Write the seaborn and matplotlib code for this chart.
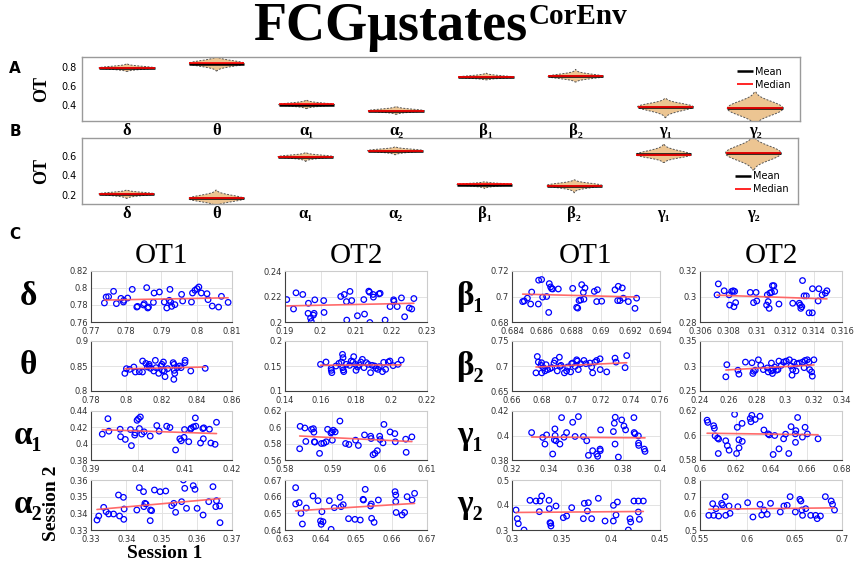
import numpy as np
import pandas as pd
import matplotlib
matplotlib.use("Agg")
import matplotlib.pyplot as plt
import seaborn as sns

bands = ["δ", "θ", "α₁", "α₂", "β₁", "β₂", "γ₁", "γ₂"]

# (session 1, session 2) pairs
delta_ot1 = [(0.7738, 0.7824), (0.7743, 0.7894), (0.7750, 0.7898), (0.7764, 0.7961), (0.7772, 0.7816),
             (0.7785, 0.7878), (0.7792, 0.7835), (0.7793, 0.7855), (0.7804, 0.7882), (0.7817, 0.7984),
             (0.7830, 0.7776), (0.7832, 0.7784), (0.7849, 0.7800), (0.7851, 0.7816), (0.7858, 0.8004),
             (0.7861, 0.7765), (0.7863, 0.7776), (0.7877, 0.7831), (0.7879, 0.7941), (0.7894, 0.7953),
             (0.7908, 0.7835), (0.7915, 0.7765), (0.7922, 0.7855), (0.7924, 0.7984), (0.7926, 0.7835),
             (0.7929, 0.7784), (0.7938, 0.7804), (0.7957, 0.7925), (0.7960, 0.7847), (0.7985, 0.7835),
             (0.7988, 0.7941), (0.7995, 0.7973), (0.8001, 0.7992), (0.8006, 0.8012), (0.8013, 0.7941),
             (0.8029, 0.7933), (0.8032, 0.7863), (0.8044, 0.7788), (0.8062, 0.7776), (0.8070, 0.7902),
             (0.8089, 0.7831)]
delta_ot2 = [(0.1905, 0.2176), (0.1924, 0.2102), (0.1931, 0.2229), (0.1950, 0.2216), (0.1965, 0.2068),
             (0.1966, 0.2147), (0.1982, 0.2068), (0.1974, 0.2004), (0.1972, 0.2030), (0.1980, 0.2054),
             (0.1984, 0.2174), (0.2009, 0.2168), (0.2010, 0.2075), (0.2057, 0.2200), (0.2067, 0.2216),
             (0.2073, 0.2160), (0.2074, 0.2015), (0.2083, 0.2240), (0.2088, 0.2168), (0.2104, 0.2049),
             (0.2122, 0.2176), (0.2124, 0.2062), (0.2136, 0.2242), (0.2138, 0.2234), (0.2139, 0.1996),
             (0.2148, 0.2216), (0.2149, 0.2195), (0.2165, 0.2221), (0.2168, 0.2225), (0.2182, 0.2015),
             (0.2196, 0.2121), (0.2206, 0.2174), (0.2207, 0.2163), (0.2216, 0.2121), (0.2228, 0.2189),
             (0.2237, 0.2041), (0.2250, 0.2110), (0.2257, 0.2102), (0.2263, 0.2184)]
theta_ot1 = [(0.7992, 0.8353), (0.8001, 0.8447), (0.8019, 0.8433), (0.8043, 0.8480), (0.8052, 0.8380),
             (0.8074, 0.8387), (0.8092, 0.8380), (0.8093, 0.8600), (0.8111, 0.8553), (0.8120, 0.8480),
             (0.8129, 0.8500), (0.8130, 0.8533), (0.8138, 0.8453), (0.8156, 0.8400), (0.8165, 0.8613),
             (0.8169, 0.8467), (0.8184, 0.8353), (0.8198, 0.8500), (0.8202, 0.8533), (0.8205, 0.8413),
             (0.8211, 0.8580), (0.8216, 0.8400), (0.8220, 0.8287), (0.8235, 0.8447), (0.8266, 0.8567),
             (0.8271, 0.8533), (0.8272, 0.8413), (0.8275, 0.8353), (0.8270, 0.8233), (0.8289, 0.8467),
             (0.8302, 0.8500), (0.8311, 0.8467), (0.8333, 0.8567), (0.8334, 0.8613), (0.8366, 0.8400),
             (0.8448, 0.8453)]
theta_ot2 = [(0.1600, 0.1533), (0.1631, 0.1580), (0.1660, 0.1453), (0.1661, 0.1413), (0.1664, 0.1367),
             (0.1687, 0.1500), (0.1704, 0.1553), (0.1718, 0.1580), (0.1724, 0.1733), (0.1727, 0.1667),
             (0.1725, 0.1467), (0.1728, 0.1420), (0.1731, 0.1387), (0.1745, 0.1533), (0.1764, 0.1513),
             (0.1773, 0.1600), (0.1782, 0.1580), (0.1787, 0.1687), (0.1796, 0.1533), (0.1800, 0.1413),
             (0.1809, 0.1480), (0.1818, 0.1520), (0.1827, 0.1580), (0.1836, 0.1633), (0.1845, 0.1467),
             (0.1858, 0.1567), (0.1869, 0.1533), (0.1882, 0.1367), (0.1891, 0.1513), (0.1905, 0.1500),
             (0.1913, 0.1453), (0.1924, 0.1433), (0.1931, 0.1487), (0.1949, 0.1387), (0.1956, 0.1573),
             (0.1967, 0.1433), (0.1982, 0.1580), (0.1991, 0.1600), (0.2009, 0.1507), (0.2036, 0.1533),
             (0.2055, 0.1620)]
alpha1_ot1 = [(0.3924, 0.4117), (0.3936, 0.4306), (0.3938, 0.4153), (0.3962, 0.4177), (0.3963, 0.4085),
              (0.3973, 0.4052), (0.3984, 0.4173), (0.3986, 0.3976), (0.3993, 0.4105), (0.3994, 0.4133),
              (0.3998, 0.4286), (0.4001, 0.4306), (0.4005, 0.4327), (0.4003, 0.4185), (0.4008, 0.4117),
              (0.4013, 0.4145), (0.4026, 0.4093), (0.4040, 0.4222), (0.4045, 0.4153), (0.4061, 0.4214),
              (0.4068, 0.4198), (0.4080, 0.3923), (0.4089, 0.4060), (0.4092, 0.4036), (0.4098, 0.4077),
              (0.4099, 0.4173), (0.4108, 0.4024), (0.4112, 0.4177), (0.4113, 0.4190), (0.4118, 0.4206),
              (0.4122, 0.4315), (0.4123, 0.4214), (0.4133, 0.4008), (0.4138, 0.4185), (0.4140, 0.4194),
              (0.4139, 0.4060), (0.4152, 0.4177), (0.4155, 0.4008), (0.4164, 0.3992), (0.4167, 0.4262)]
alpha1_ot2 = [(0.5832, 0.6012), (0.5842, 0.5992), (0.5844, 0.5827), (0.5831, 0.5738), (0.5856, 0.5976),
              (0.5860, 0.5984), (0.5861, 0.5940), (0.5862, 0.5823), (0.5863, 0.5819), (0.5873, 0.5681),
              (0.5877, 0.5802), (0.5882, 0.5806), (0.5887, 0.5823), (0.5890, 0.5976), (0.5897, 0.5931),
              (0.5899, 0.5944), (0.5902, 0.5964), (0.5900, 0.5843), (0.5906, 0.5944), (0.5916, 0.6077),
              (0.5928, 0.5802), (0.5935, 0.5790), (0.5949, 0.5843), (0.5955, 0.5778), (0.5968, 0.5907),
              (0.5981, 0.5891), (0.5982, 0.5863), (0.5986, 0.5665), (0.5990, 0.5681), (0.5995, 0.5714),
              (0.6000, 0.5891), (0.6001, 0.5851), (0.6007, 0.5810), (0.6009, 0.6036), (0.6022, 0.5944),
              (0.6032, 0.5923), (0.6033, 0.5823), (0.6055, 0.5855), (0.6056, 0.5694), (0.6068, 0.5883)]
alpha2_ot1 = [(0.3317, 0.3360), (0.3322, 0.3384), (0.3336, 0.3436), (0.3343, 0.3410), (0.3350, 0.3396),
              (0.3364, 0.3396), (0.3378, 0.3510), (0.3381, 0.3384), (0.3392, 0.3496), (0.3394, 0.3426),
              (0.3393, 0.3364), (0.3430, 0.3420), (0.3437, 0.3554), (0.3449, 0.3530), (0.3450, 0.3440),
              (0.3453, 0.3460), (0.3456, 0.3456), (0.3468, 0.3356), (0.3469, 0.3420), (0.3472, 0.3416),
              (0.3480, 0.3540), (0.3496, 0.3530), (0.3512, 0.3534), (0.3529, 0.3446), (0.3535, 0.3460),
              (0.3540, 0.3406), (0.3557, 0.3470), (0.3562, 0.3600), (0.3566, 0.3550), (0.3571, 0.3430),
              (0.3590, 0.3566), (0.3595, 0.3544), (0.3601, 0.3430), (0.3618, 0.3390), (0.3634, 0.3470),
              (0.3646, 0.3560), (0.3654, 0.3440), (0.3656, 0.3476), (0.3665, 0.3444), (0.3666, 0.3344)]
alpha2_ot2 = [(0.6330, 0.6654), (0.6330, 0.6556), (0.6340, 0.6564), (0.6345, 0.6500), (0.6349, 0.6436),
              (0.6360, 0.6532), (0.6379, 0.6604), (0.6393, 0.6576), (0.6400, 0.6454), (0.6402, 0.6434),
              (0.6404, 0.6510), (0.6407, 0.6450), (0.6425, 0.6576), (0.6430, 0.6404), (0.6439, 0.6534),
              (0.6455, 0.6596), (0.6458, 0.6540), (0.6464, 0.6552), (0.6479, 0.6468), (0.6497, 0.6464),
              (0.6512, 0.6460), (0.6520, 0.6584), (0.6521, 0.6580), (0.6526, 0.6644), (0.6541, 0.6544),
              (0.6543, 0.6556), (0.6544, 0.6470), (0.6551, 0.6446), (0.6563, 0.6580), (0.6610, 0.6630),
              (0.6612, 0.6610), (0.6612, 0.6570), (0.6613, 0.6505), (0.6630, 0.6490), (0.6637, 0.6505),
              (0.6644, 0.6600), (0.6658, 0.6580), (0.6665, 0.6620)]
beta1_ot1 = [(0.68472, 0.6960), (0.68483, 0.6965), (0.68504, 0.6987), (0.68526, 0.6941), (0.68533, 0.7035),
             (0.68578, 0.6941), (0.68580, 0.7128), (0.68600, 0.7133), (0.68607, 0.6995), (0.68634, 0.7000),
             (0.68648, 0.6875), (0.68652, 0.7101), (0.68661, 0.7075), (0.68668, 0.7061), (0.68675, 0.7059),
             (0.68713, 0.7059), (0.68810, 0.7064), (0.68837, 0.6915), (0.68844, 0.6909), (0.68853, 0.6968),
             (0.68864, 0.6973), (0.68871, 0.7093), (0.68882, 0.7032), (0.68886, 0.6979), (0.68893, 0.7067),
             (0.68956, 0.7040), (0.68972, 0.6960), (0.68977, 0.7053), (0.69006, 0.6963), (0.69096, 0.7053),
             (0.69114, 0.6968), (0.69118, 0.7080), (0.69130, 0.6968), (0.69145, 0.7067), (0.69152, 0.6987),
             (0.69186, 0.6960), (0.69231, 0.6907), (0.69242, 0.6987)]
beta1_ot2 = [(0.30720, 0.3013), (0.30729, 0.3099), (0.30770, 0.3045), (0.30805, 0.3013), (0.30809, 0.2933),
             (0.30823, 0.3040), (0.30834, 0.3045), (0.30839, 0.2920), (0.30844, 0.3040), (0.30851, 0.2952),
             (0.30954, 0.3032), (0.30977, 0.2952), (0.30995, 0.3032), (0.31000, 0.2965), (0.31069, 0.2933),
             (0.31074, 0.3013), (0.31080, 0.2960), (0.31087, 0.2907), (0.31092, 0.3027), (0.31103, 0.3032),
             (0.31110, 0.3085), (0.31120, 0.3085), (0.31126, 0.3040), (0.31156, 0.2941), (0.31253, 0.2947),
             (0.31299, 0.2947), (0.31306, 0.2933), (0.31310, 0.2907), (0.31317, 0.2920), (0.31322, 0.3125),
             (0.31333, 0.3005), (0.31349, 0.3005), (0.31368, 0.2872), (0.31391, 0.2872), (0.31392, 0.3061),
             (0.31432, 0.2965), (0.31437, 0.3061), (0.31460, 0.3013), (0.31483, 0.3027), (0.31494, 0.3045)]
beta2_ot1 = [(0.6762, 0.6863), (0.6771, 0.7190), (0.6778, 0.7078), (0.6796, 0.7013), (0.6800, 0.7065),
             (0.6801, 0.6863), (0.6812, 0.6967), (0.6823, 0.6902), (0.6830, 0.7026), (0.6841, 0.6928),
             (0.6857, 0.6948), (0.6868, 0.6967), (0.6884, 0.7059), (0.6891, 0.7111), (0.6906, 0.6902),
             (0.6920, 0.7176), (0.6924, 0.6993), (0.6931, 0.7013), (0.6954, 0.6863), (0.6969, 0.6902),
             (0.6976, 0.6980), (0.6996, 0.6882), (0.7003, 0.7046), (0.7010, 0.7059), (0.7026, 0.6993),
             (0.7037, 0.7124), (0.7041, 0.7098), (0.7048, 0.6928), (0.7064, 0.7046), (0.7086, 0.7111),
             (0.7100, 0.7046), (0.7127, 0.7059), (0.7138, 0.6980), (0.7145, 0.6863), (0.7161, 0.7078),
             (0.7172, 0.7111), (0.7195, 0.7144), (0.7196, 0.6928), (0.7240, 0.6882), (0.7296, 0.7157),
             (0.7303, 0.7078), (0.7364, 0.6967), (0.7375, 0.7209)]
beta2_ot2 = [(0.2582, 0.2784), (0.2589, 0.3026), (0.2667, 0.2915), (0.2674, 0.2837), (0.2720, 0.3078),
             (0.2766, 0.3065), (0.2772, 0.2850), (0.2777, 0.2895), (0.2789, 0.2915), (0.2811, 0.3124),
             (0.2828, 0.3013), (0.2846, 0.2928), (0.2874, 0.2961), (0.2880, 0.2882), (0.2903, 0.3059),
             (0.2904, 0.2902), (0.2910, 0.2850), (0.2915, 0.2928), (0.2926, 0.2980), (0.2938, 0.2915),
             (0.2949, 0.2928), (0.2956, 0.3098), (0.2972, 0.3013), (0.2989, 0.3078), (0.3007, 0.3098),
             (0.3030, 0.3124), (0.3041, 0.3000), (0.3048, 0.2817), (0.3053, 0.2928), (0.3060, 0.3078),
             (0.3076, 0.2902), (0.3083, 0.3046), (0.3099, 0.3059), (0.3122, 0.3078), (0.3133, 0.2967),
             (0.3140, 0.3111), (0.3156, 0.3124), (0.3168, 0.3078), (0.3172, 0.2928), (0.3186, 0.2882),
             (0.3191, 0.2797), (0.3202, 0.3124)]
gamma1_ot1 = [(0.3306, 0.4024), (0.3366, 0.3984), (0.3378, 0.3930), (0.3387, 0.4005), (0.3420, 0.3849),
              (0.3429, 0.3965), (0.3432, 0.4054), (0.3433, 0.4000), (0.3438, 0.3957), (0.3459, 0.3930),
              (0.3468, 0.4146), (0.3481, 0.3986), (0.3495, 0.4024), (0.3528, 0.4108), (0.3559, 0.4154),
              (0.3541, 0.3992), (0.3586, 0.3992), (0.3604, 0.3957), (0.3613, 0.3838), (0.3636, 0.3876),
              (0.3658, 0.3849), (0.3663, 0.3830), (0.3676, 0.3889), (0.3677, 0.3876), (0.3679, 0.4046),
              (0.3748, 0.4032), (0.3753, 0.4100), (0.3757, 0.3930), (0.3758, 0.4149), (0.3775, 0.3824),
              (0.3793, 0.4127), (0.3805, 0.4078), (0.3814, 0.4046), (0.3859, 0.4146), (0.3860, 0.4024),
              (0.3865, 0.4014), (0.3883, 0.3997), (0.3884, 0.3938), (0.3885, 0.3919), (0.3915, 0.3889),
              (0.3919, 0.3870)]
gamma1_ot2 = [(0.6040, 0.6125), (0.6044, 0.6107), (0.6077, 0.6080), (0.6081, 0.6059), (0.6085, 0.5997),
              (0.6099, 0.5979), (0.6103, 0.5853), (0.6105, 0.5971), (0.6145, 0.5957), (0.6154, 0.5917),
              (0.6164, 0.5880), (0.6195, 0.6173), (0.6206, 0.5853), (0.6210, 0.6067), (0.6219, 0.5965),
              (0.6220, 0.5899), (0.6237, 0.6099), (0.6238, 0.5952), (0.6283, 0.6139), (0.6292, 0.6165),
              (0.6287, 0.6112), (0.6311, 0.6131), (0.6338, 0.6157), (0.6360, 0.6045), (0.6384, 0.6013),
              (0.6390, 0.6005), (0.6412, 0.5845), (0.6421, 0.6000), (0.6445, 0.5891), (0.6471, 0.5973),
              (0.6482, 0.6011), (0.6500, 0.5853), (0.6513, 0.6072), (0.6537, 0.6013), (0.6538, 0.5944),
              (0.6540, 0.6040), (0.6550, 0.6147), (0.6577, 0.5987), (0.6592, 0.6067), (0.6605, 0.6013),
              (0.6665, 0.5973)]
gamma2_ot1 = [(0.3041, 0.3800), (0.3054, 0.3453), (0.3064, 0.3253), (0.3122, 0.3000), (0.3182, 0.4187),
              (0.3243, 0.4160), (0.3277, 0.3733), (0.3284, 0.4160), (0.3301, 0.4360), (0.3375, 0.4187),
              (0.3378, 0.3853), (0.3385, 0.3293), (0.3392, 0.3267), (0.3395, 0.3160), (0.3446, 0.3960),
              (0.3520, 0.3493), (0.3554, 0.3560), (0.3605, 0.3893), (0.3723, 0.3453), (0.3733, 0.4067),
              (0.3764, 0.3760), (0.3774, 0.4093), (0.3807, 0.3453), (0.3875, 0.4267), (0.3943, 0.3360),
              (0.4027, 0.3360), (0.4028, 0.3987), (0.4054, 0.3600), (0.4068, 0.4120), (0.4179, 0.3000),
              (0.4196, 0.3453), (0.4203, 0.3320), (0.4236, 0.4160), (0.4280, 0.3720), (0.4281, 0.4160),
              (0.4291, 0.3427), (0.4331, 0.4160)]
gamma2_ot2 = [(0.5593, 0.5880), (0.5634, 0.6580), (0.5645, 0.5880), (0.5669, 0.6280), (0.5697, 0.5840),
              (0.5728, 0.6600), (0.5738, 0.6500), (0.5766, 0.7000), (0.5772, 0.5880), (0.5807, 0.6440),
              (0.5817, 0.6000), (0.5900, 0.6400), (0.6003, 0.6640), (0.6059, 0.5780), (0.6134, 0.6540),
              (0.6152, 0.5900), (0.6176, 0.6200), (0.6210, 0.5940), (0.6245, 0.6600), (0.6348, 0.6080),
              (0.6386, 0.6440), (0.6421, 0.6480), (0.6452, 0.7000), (0.6507, 0.6080), (0.6555, 0.6840),
              (0.6566, 0.6740), (0.6576, 0.6200), (0.6583, 0.5880), (0.6617, 0.6280), (0.6669, 0.5880),
              (0.6721, 0.5880), (0.6738, 0.5680), (0.6772, 0.5840), (0.6824, 0.7000), (0.6886, 0.6740),
              (0.6900, 0.6540), (0.6921, 0.6200)]

ot1_data = [delta_ot1, theta_ot1, alpha1_ot1, alpha2_ot1, beta1_ot1, beta2_ot1, gamma1_ot1, gamma2_ot1]
ot2_data = [delta_ot2, theta_ot2, alpha1_ot2, alpha2_ot2, beta1_ot2, beta2_ot2, gamma1_ot2, gamma2_ot2]

# axis ranges of the scatter panels: (xmin, xmax, xstep, ymin, ymax, ystep)
ranges_ot1 = [(0.77, 0.81, 0.01, 0.76, 0.82, 0.02), (0.78, 0.86, 0.02, 0.8, 0.9, 0.05),
              (0.39, 0.42, 0.01, 0.38, 0.44, 0.02), (0.33, 0.37, 0.01, 0.33, 0.36, 0.01),
              (0.684, 0.694, 0.002, 0.68, 0.72, 0.02), (0.66, 0.76, 0.02, 0.65, 0.75, 0.05),
              (0.32, 0.40, 0.02, 0.38, 0.42, 0.02), (0.30, 0.45, 0.05, 0.3, 0.5, 0.1)]
ranges_ot2 = [(0.19, 0.23, 0.01, 0.2, 0.24, 0.02), (0.14, 0.22, 0.02, 0.1, 0.2, 0.05),
              (0.58, 0.61, 0.01, 0.56, 0.62, 0.02), (0.63, 0.67, 0.01, 0.64, 0.67, 0.01),
              (0.306, 0.316, 0.002, 0.28, 0.32, 0.02), (0.24, 0.34, 0.02, 0.25, 0.35, 0.05),
              (0.60, 0.68, 0.02, 0.58, 0.62, 0.02), (0.55, 0.70, 0.05, 0.5, 0.8, 0.1)]

serif = ["Liberation Serif", "DejaVu Serif"]
fill = "#FBC783"

sns.set_theme(style="white")
plt.rcParams["font.family"] = ["DejaVu Sans"]
plt.rcParams["text.color"] = "black"
plt.rcParams["axes.labelcolor"] = "black"
plt.rcParams["xtick.color"] = "black"
plt.rcParams["ytick.color"] = "black"

W, H = 856, 562
fig = plt.figure(figsize=(W / 100, H / 100), dpi=100)


def px_axes(x0, y0, x1, y1):
    return fig.add_axes([x0 / W, 1 - y1 / H, (x1 - x0) / W, (y1 - y0) / H])


def violin_panel(ax, datasets, ylim, yticks, loc):
    df = pd.DataFrame({
        "band": np.repeat(bands, [np.asarray(d).size for d in datasets]),
        "OT": np.concatenate([np.asarray(d).ravel() for d in datasets]),
    })
    sns.violinplot(data=df, x="band", y="OT", order=bands, ax=ax, color=fill,
                   inner=None, density_norm="width", width=0.62, linewidth=0.7,
                   linecolor="#555555", bw_adjust=3, cut=2)
    for c in ax.collections:
        c.set_linestyle((0, (2, 1.5)))
    for i, b in enumerate(bands):
        v = df.loc[df.band == b, "OT"]
        ax.hlines(v.mean(), i - 0.31, i + 0.31, color="black", lw=1.8,
                  label="Mean" if i == 0 else None)
        ax.hlines(v.median(), i - 0.31, i + 0.31, color="red", lw=1.2,
                  label="Median" if i == 0 else None)
    ax.set_xlim(-0.5, 7.5)
    ax.set_ylim(*ylim)
    ax.set_yticks(yticks)
    ax.set_yticklabels(["%g" % t for t in yticks], fontsize=7)
    ax.set_xticks(range(8))
    ax.set_xticklabels(bands, fontsize=12, fontweight="bold", family=serif)
    ax.tick_params(axis="x", length=0, pad=1.5)
    ax.tick_params(axis="y", length=2, pad=2)
    ax.set_xlabel("")
    ax.set_ylabel("OT", fontsize=13, fontweight="bold", family=serif, labelpad=8)
    for s in ax.spines.values():
        s.set_color("#9a9a9a")
        s.set_linewidth(1)
    ax.legend(loc=loc, frameon=False, fontsize=7, handlelength=1.6,
              handletextpad=0.2, labelspacing=0.3, borderaxespad=0.6)


ax_a = px_axes(82, 57, 800, 121)
violin_panel(ax_a, ot1_data, (0.24, 0.9), [0.4, 0.6, 0.8], "upper right")
ax_b = px_axes(82, 138, 798, 204)
violin_panel(ax_b, ot2_data, (0.11, 0.78), [0.2, 0.4, 0.6], "lower right")

# scatter grid (pixel boxes)
cols_px = [(91, 232), (285, 427), (512, 660), (700, 842)]
rows_px = [(271, 322), (341, 391), (411, 460), (480, 530)]

for k in range(8):
    r, half = k % 4, k // 4
    for j, (data, rng) in enumerate([(ot1_data[k], ranges_ot1[k]), (ot2_data[k], ranges_ot2[k])]):
        x0, x1 = cols_px[2 * half + j]
        y0, y1 = rows_px[r]
        ax = px_axes(x0, y0, x1, y1)
        d = np.asarray(data)
        sns.regplot(x=d[:, 0], y=d[:, 1], ax=ax, ci=None, color="blue",
                    scatter_kws=dict(s=16, facecolors="none", linewidths=0.9, alpha=1),
                    line_kws=dict(color="#ff5a5a", lw=1.2, alpha=0.9))
        xmin, xmax, xs, ymin, ymax, ys = rng
        xt = np.round(np.arange(xmin, xmax + xs / 2, xs), 4)
        yt = np.round(np.arange(ymin, ymax + ys / 2, ys), 4)
        ax.set_xlim(xmin, xmax)
        ax.set_ylim(ymin, ymax)
        ax.set_xticks(xt)
        ax.set_yticks(yt)
        ax.set_xticklabels(["%g" % t for t in xt], fontsize=6, color="#333333")
        ax.set_yticklabels(["%g" % t for t in yt], fontsize=6, color="#333333")
        ax.tick_params(direction="in", length=2, colors="#333333")
        ax.tick_params(axis="x", pad=3.5)
        ax.tick_params(axis="y", pad=2)
        ax.grid(True, color="#e3e3e3", lw=0.7)
        ax.set_axisbelow(True)
        for side in ["top", "right"]:
            ax.spines[side].set_color("#cccccc")
        for side in ["left", "bottom"]:
            ax.spines[side].set_color("#404040")
        for s in ax.spines.values():
            s.set_linewidth(0.8)
        ax.set_xlabel("")
        ax.set_ylabel("")

# row labels
for k, b in enumerate(bands):
    r, half = k % 4, k // 4
    y0, y1 = rows_px[r]
    x = 28 if half == 0 else 470
    fig.text(x / W, 1 - (y0 + y1) / 2 / H, b, fontsize=24, fontweight="bold",
             family=serif, ha="center", va="center")

# column headers
for (x0, x1), name in zip(cols_px, ["OT1", "OT2", "OT1", "OT2"]):
    fig.text((x0 + x1) / 2 / W, 1 - 256 / H, name, fontsize=21, family=serif,
             ha="center", va="center")

fig.text(52 / W, 1 - 503 / H, "Session 2", fontsize=14, fontweight="bold", family=serif,
         rotation=90, ha="center", va="center")
fig.text(165 / W, 1 - 553 / H, "Session 1", fontsize=14, fontweight="bold", family=serif,
         ha="center", va="center")

for lab, y in [("A", 68), ("B", 131), ("C", 235)]:
    fig.text(15 / W, 1 - y / H, lab, fontsize=11, fontweight="bold", ha="center", va="center")

# title with superscript
t = fig.text(253 / W, 1 - 40 / H, "FCGμstates", fontsize=39, fontweight="bold",
             family=serif, va="baseline", ha="left", color="black")
fig.canvas.draw()
bb = t.get_window_extent()
fig.text(bb.x1 / fig.bbox.width + 0.002, 1 - 24 / H, "CorEnv", fontsize=21,
         fontweight="bold", family=serif, va="baseline", ha="left", color="black")

fig.savefig("out.png", dpi=100)
